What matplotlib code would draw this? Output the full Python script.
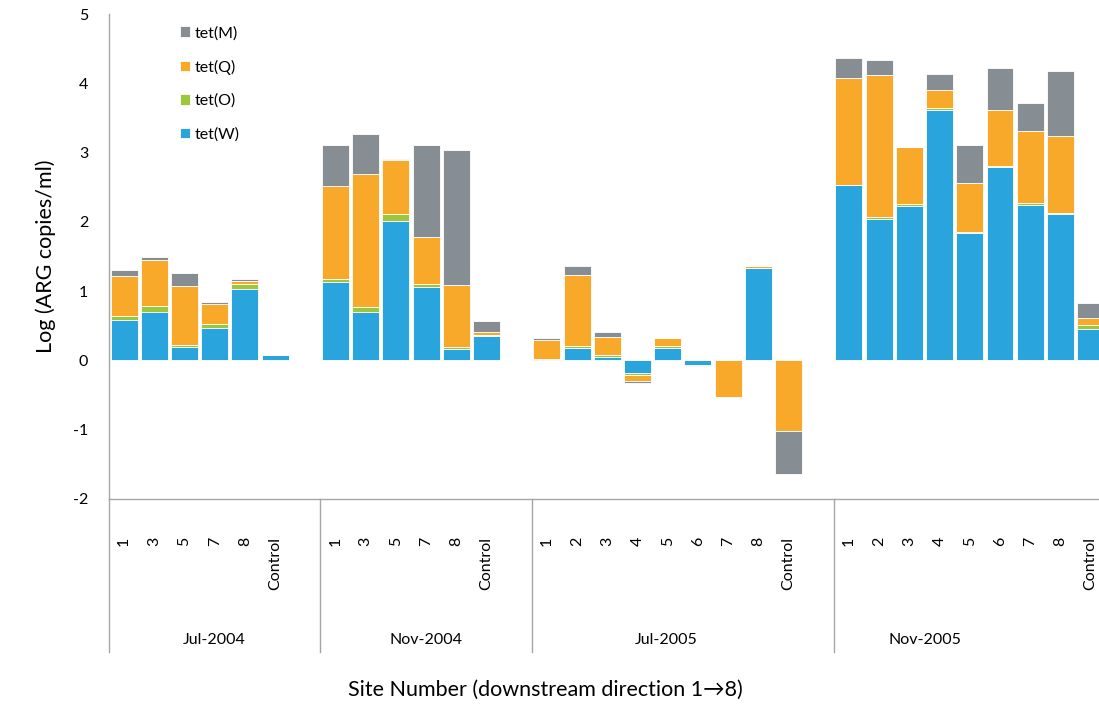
import matplotlib
matplotlib.use('Agg')
import matplotlib.pyplot as plt
import numpy as np

plt.rcParams['font.family'] = ['Lato', 'DejaVu Sans']
plt.rcParams['axes.unicode_minus'] = False

# groups of sampling campaigns and the site labels inside each
groups = ['Jul-2004', 'Nov-2004', 'Jul-2005', 'Nov-2005']
group_sites = [
    ['1', '3', '5', '7', '8', 'Control'],
    ['1', '3', '5', '7', '8', 'Control'],
    ['1', '2', '3', '4', '5', '6', '7', '8', 'Control'],
    ['1', '2', '3', '4', '5', '6', '7', '8', 'Control'],
]

# stacked components, Log(ARG copies/ml)
tet_w = [0.58, 0.70, 0.20, 0.47, 1.035, 0.08,
         1.135, 0.70, 2.01, 1.063, 0.164, 0.356,
         0.025, 0.173, 0.048, -0.178, 0.178, -0.072, 0.0, 1.33, 0.0,
         2.525, 2.035, 2.227, 3.61, 1.843, 2.795, 2.246, 2.117, 0.452]
tet_o = [0.065, 0.09, 0.02, 0.06, 0.07, 0.0,
         0.04, 0.075, 0.10, 0.034, 0.025, 0.015,
         0.0, 0.033, 0.024, -0.038, 0.024, -0.014, 0.0, 0.0, 0.0,
         0.01, 0.035, 0.029, 0.036, 0.014, 0.01, 0.02, 0.015, 0.063]
tet_q = [0.575, 0.66, 0.85, 0.29, 0.04, 0.0,
         1.34, 1.91, 0.79, 0.69, 0.90, 0.04,
         0.265, 1.03, 0.264, -0.082, 0.125, 0.0, -0.524, 0.03, -1.025,
         1.54, 2.05, 0.82, 0.26, 0.70, 0.81, 1.04, 1.10, 0.10]
tet_m = [0.08, 0.04, 0.19, 0.03, 0.035, 0.0,
         0.60, 0.58, 0.01, 1.32, 1.955, 0.16,
         0.04, 0.13, 0.078, -0.03, 0.0, 0.0, 0.0, 0.0, -0.62,
         0.29, 0.21, 0.0, 0.231, 0.55, 0.60, 0.41, 0.95, 0.217]

series = [('tet(W)', tet_w, '#29A4DD'),
          ('tet(O)', tet_o, '#9CC73B'),
          ('tet(Q)', tet_q, '#F9A92A'),
          ('tet(M)', tet_m, '#868E93')]

# x positions: each group followed by one empty slot
positions = []
labels = []
bounds = []
pos = 0
for sites in group_sites:
    start = pos
    for s in sites:
        positions.append(pos)
        labels.append(s)
        pos += 1
    pos += 1
    bounds.append((start - 0.5, pos - 0.5))
positions = np.array(positions)

fig = plt.figure(figsize=(10.99, 7.05), dpi=100)
ax = fig.add_axes([109 / 1099, 1 - 499 / 705, 990 / 1099, 485 / 705])

pos_bottom = np.zeros(len(positions))
neg_bottom = np.zeros(len(positions))
handles = []
for name, vals, color in series:
    vals = np.array(vals)
    bottom = np.where(vals >= 0, pos_bottom, neg_bottom)
    h = ax.bar(positions, vals, width=0.89, bottom=bottom, color=color,
               edgecolor='white', linewidth=0.6, label=name)
    handles.append(h)
    pos_bottom += np.where(vals > 0, vals, 0)
    neg_bottom += np.where(vals < 0, vals, 0)

ax.set_xlim(-0.5, 32.28)
ax.set_ylim(-2, 5)
ax.set_yticks(range(-2, 6))
ax.tick_params(axis='y', length=0, pad=15, labelsize=11.5, colors='black')
ax.set_xticks([])
for side in ['top', 'right']:
    ax.spines[side].set_visible(False)
for side in ['left', 'bottom']:
    ax.spines[side].set_color('#A6A6A6')
    ax.spines[side].set_linewidth(1.0)

trans = ax.get_xaxis_transform()
box_bottom = (499 - 652) / 485
# site labels
for x, lab in zip(positions, labels):
    ax.text(x, (499 - 537) / 485, lab, rotation=90, ha='center', va='top',
            fontsize=11.5, transform=trans)
# group separators and labels
group_label_x = [3.0, 10.0, 17.94, 26.52]
for (x0, x1), g, gx in zip(bounds, groups, group_label_x):
    ax.plot([x0, x0], [0, box_bottom], color='#A6A6A6', lw=1.0,
            transform=trans, clip_on=False)
    ax.text(gx, (499 - 640) / 485, g, ha='center', va='center',
            fontsize=11.5, transform=trans)

ax.set_ylabel('Log (ARG copies/ml)', fontsize=15.5, labelpad=12)
fig.text(545 / 1099, 1 - 690 / 705, 'Site Number (downstream direction 1\u21928)',
         ha='center', va='center', fontsize=15.5)

leg = ax.legend(handles[::-1], [s[0] for s in series][::-1],
                loc='upper left', bbox_to_anchor=(0.057, 1.005), frameon=False,
                fontsize=11.5, handlelength=0.65, handleheight=0.65,
                handletextpad=0.3, labelspacing=1.2)

fig.savefig('out.png', dpi=100)
